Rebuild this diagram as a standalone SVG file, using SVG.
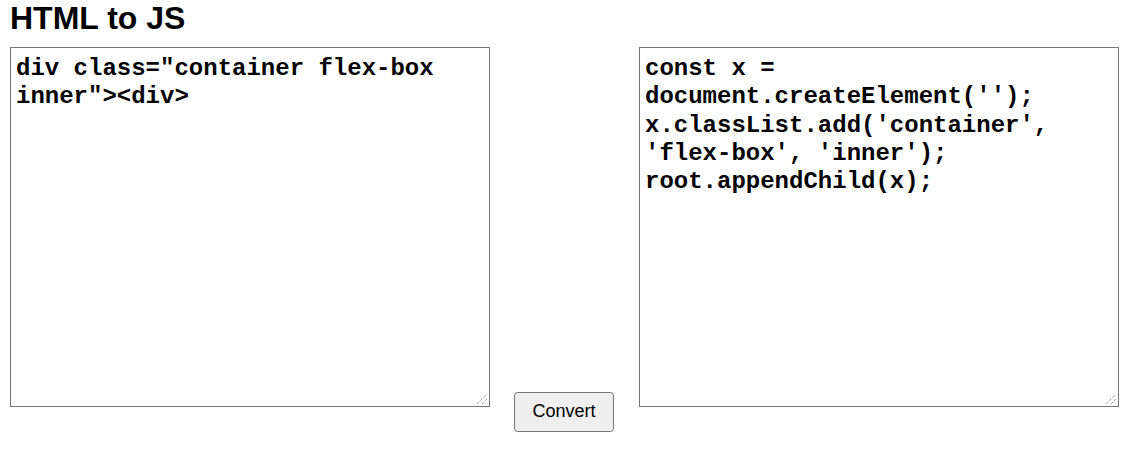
<svg xmlns="http://www.w3.org/2000/svg" width="1136" height="465" viewBox="0 0 1136 465">
<style>
.code{font-family:"Liberation Mono","Courier New",monospace;font-weight:bold;font-size:24px;fill:#000}
.box{fill:#fff;stroke:#767676;stroke-width:1}
.grip{stroke:#777;stroke-width:1;stroke-dasharray:1 1}
</style>
<rect width="1136" height="465" fill="#fff"/>
<g id="title">
<text x="10" y="29" font-family="Liberation Sans, Arial, sans-serif" font-weight="bold" font-size="32" fill="#000">HTML to JS</text>
</g>
<g id="input">
<rect class="box" x="10.5" y="47.5" width="479" height="359"/>
<line class="grip" x1="477" y1="404" x2="487" y2="394"/>
<line class="grip" x1="482" y1="404" x2="487" y2="399"/>
<text class="code" x="16" y="75">div class="container flex-box</text>
<text class="code" x="16" y="103.3">inner"&gt;&lt;div&gt;</text>
</g>
<g id="output">
<rect class="box" x="639.5" y="47.5" width="479" height="359"/>
<line class="grip" x1="1106" y1="404" x2="1116" y2="394"/>
<line class="grip" x1="1111" y1="404" x2="1116" y2="399"/>
<text class="code" x="645" y="75">const x =</text>
<text class="code" x="645" y="103.3">document.createElement('');</text>
<text class="code" x="645" y="131.6">x.classList.add('container',</text>
<text class="code" x="645" y="159.9">'flex-box', 'inner');</text>
<text class="code" x="645" y="188.2">root.appendChild(x);</text>
</g>
<g id="convert">
<rect x="514.5" y="392.5" width="99" height="39" rx="3" fill="#efefef" stroke="#767676"/>
<text x="564" y="417" text-anchor="middle" font-family="Liberation Sans, Arial, sans-serif" font-size="18" fill="#000">Convert</text>
</g>
<g id="connectors"/>
</svg>
